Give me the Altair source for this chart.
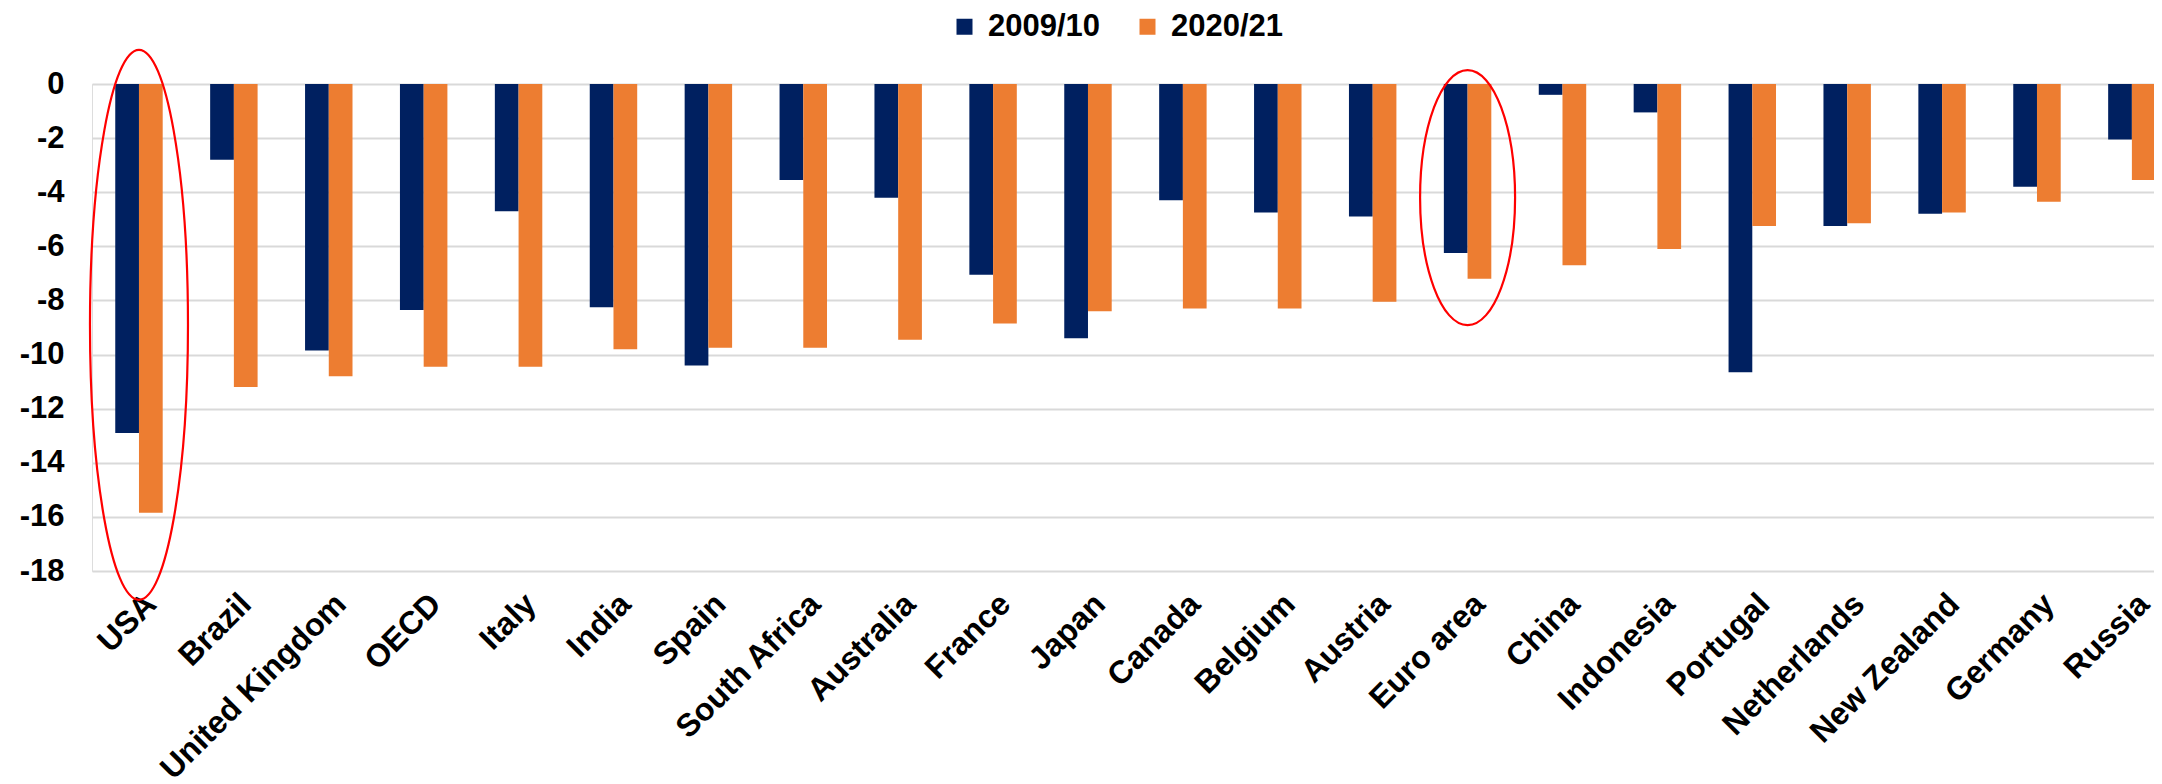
import json
import altair as alt
import pandas as pd

countries = ["USA", "Brazil", "United Kingdom", "OECD", "Italy", "India", "Spain",
             "South Africa", "Australia", "France", "Japan", "Canada", "Belgium",
             "Austria", "Euro area", "China", "Indonesia", "Portugal", "Netherlands",
             "New Zealand", "Germany", "Russia"]
v_2009_10 = [-12.9, -2.8, -9.85, -8.35, -4.7, -8.25, -10.4, -3.55, -4.2, -7.05, -9.4,
             -4.3, -4.75, -4.9, -6.25, -0.4, -1.05, -10.65, -5.25, -4.8, -3.8, -2.05]
v_2020_21 = [-15.85, -11.2, -10.8, -10.45, -10.45, -9.8, -9.75, -9.75, -9.45, -8.85,
             -8.4, -8.3, -8.3, -8.05, -7.2, -6.7, -6.1, -5.25, -5.15, -4.75, -4.35, -3.55]
series = ["2009/10", "2020/21"]
colors = ["#002060", "#ED7D31"]

y_major_ticks = [0, -2, -4, -6, -8, -10, -12, -14, -16, -18]
y_minor_ticks = [round(-0.4 * k, 1) for k in range(1, 46) if k % 5 != 0]

# highlighted groups (red ellipses): category, vertical centre, half-width, half-height
highlight_cat = ["USA", "Euro area"]
highlight_cy = [-8.9, -4.2]
highlight_rx = [49, 47.5]
highlight_ry = [275, 127.5]

rows = []
for i, c in enumerate(countries):
    rows.append({"idx": i, "country": c, "series": series[0], "value": v_2009_10[i]})
    rows.append({"idx": i, "country": c, "series": series[1], "value": v_2020_21[i]})
df = pd.DataFrame(rows)

FONT = "Liberation Sans"
labels_js = json.dumps(countries)

x_scale = alt.Scale(domain=[-0.495, 21.233], nice=False, zero=False)
y_scale = alt.Scale(domain=[-18, 0], nice=False)

x_axis = alt.Axis(
    values=list(range(len(countries))),
    labelExpr=f"{labels_js}[datum.value]",
    labelAngle=-45, labelAlign="right", labelBaseline="top",
    labelFont=FONT, labelFontSize=32, labelFontWeight="bold", labelColor="black",
    labelPadding=17, labelOffset=1, ticks=False, domain=False, grid=False,
    title=None, labelOverlap=False, labelBound=False, labelFlush=False,
    labelLimit=0)

y_axis_major = alt.Axis(
    values=y_major_ticks,
    labelExpr="'' + datum.value",
    labelFont=FONT, labelFontSize=31, labelFontWeight="bold", labelColor="black",
    labelPadding=28, ticks=False, domain=False, title=None,
    gridColor="#d9d9d9", gridWidth=2, labelOverlap=False, labelLimit=0)

y_axis_minor = alt.Axis(
    values=y_minor_ticks, labels=False, ticks=False, domain=False, title=None,
    gridColor="#f0f0f0", gridWidth=2, orient="left")


def bar_layer(opacity, xa, ya, legend):
    return alt.Chart(df).transform_calculate(
        x0="datum.idx + (datum.series === '2009/10' ? -0.25 : 0)",
        x1="datum.idx + (datum.series === '2009/10' ? 0 : 0.25)",
    ).mark_bar(clip=True, opacity=opacity).encode(
        x=alt.X("x0:Q", scale=x_scale, axis=xa),
        x2="x1:Q",
        y=alt.Y("value:Q", scale=y_scale, axis=ya),
        y2=alt.datum(0),
        color=alt.Color("series:N", scale=alt.Scale(domain=series, range=colors),
                        legend=legend),
    )


legend = alt.Legend(
    title=None, orient="none", direction="horizontal",
    legendX=857, legendY=-73, symbolType="square", symbolSize=256,
    symbolStrokeWidth=0, labelFont=FONT, labelFontSize=31,
    labelFontWeight="bold", labelColor="black", labelOffset=8,
    columnPadding=31)

bars = bar_layer(1, x_axis, y_axis_major, legend)
minor = bar_layer(0, None, y_axis_minor, None)


def ellipse_path(ratio):
    k = 0.5523
    a = ratio
    return (f"M {a} 0 C {a} {k} {k*a} 1 0 1 C {-k*a} 1 {-a} {k} {-a} 0 "
            f"C {-a} {-k} {-k*a} -1 0 -1 C {k*a} -1 {a} {-k} {a} 0 Z")


layers = [bars, minor]
for cat, cy, rx, ry in zip(highlight_cat, highlight_cy, highlight_rx, highlight_ry):
    hdf = pd.DataFrame({"idx": [countries.index(cat)], "cy": [cy]})
    layers.append(
        alt.Chart(hdf).mark_point(
            shape=ellipse_path(rx / ry), size=(2 * ry) ** 2, filled=False,
            stroke="#FF0000", strokeWidth=2.2, opacity=1,
        ).encode(x=alt.X("idx:Q", scale=x_scale, axis=None),
                 y=alt.Y("cy:Q", scale=y_scale, axis=None))
    )

chart = alt.layer(*layers).resolve_axis(x="independent", y="independent").properties(
    width=2062, height=487,
    autosize=alt.AutoSizeParams(type="none"),
    padding={"left": 84, "top": 76, "right": 0, "bottom": 213},
).configure_view(stroke=None).configure(background="white")

chart.save("out.html", embed_options={"renderer": "svg", "actions": False})
